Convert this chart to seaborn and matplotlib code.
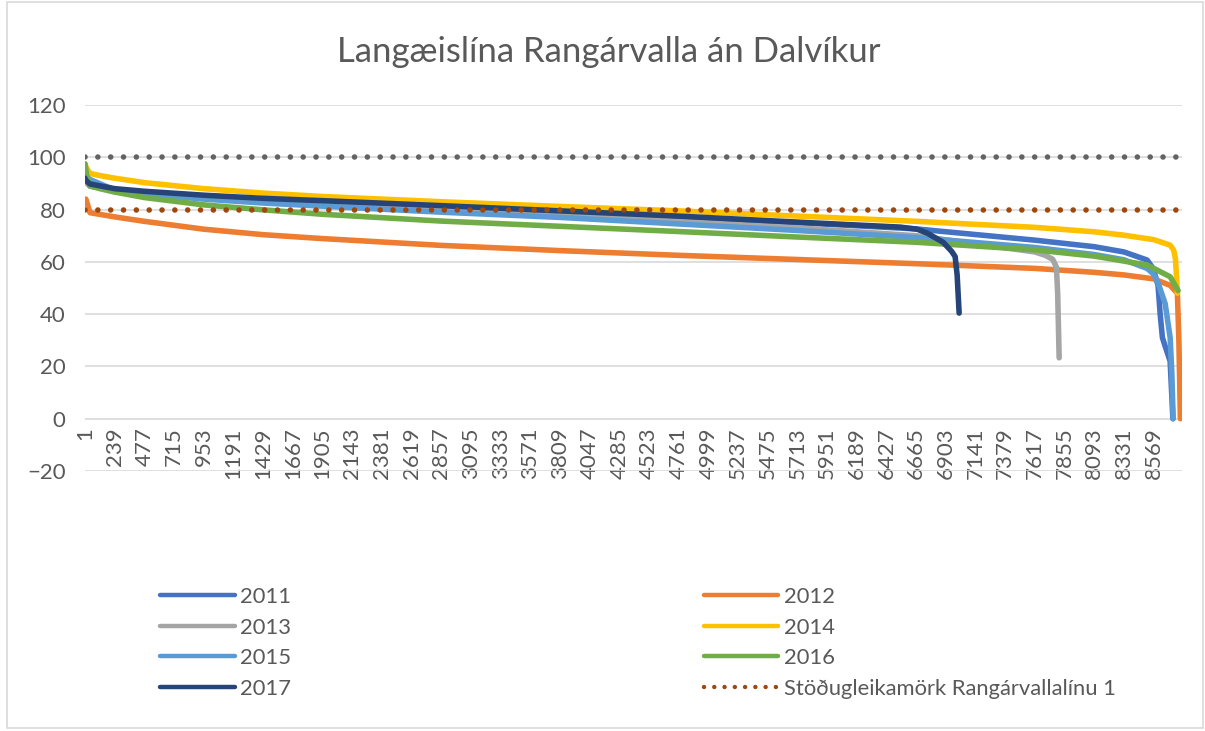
import numpy as np
import pandas as pd
import matplotlib
matplotlib.use('Agg')
import matplotlib.pyplot as plt
from matplotlib.patches import Rectangle
import seaborn as sns

# Duration curves (hour index, value)
h_2011 = [1, 41, 239, 477, 953, 1429, 1905, 2857, 3809, 4761, 5713, 6665, 7617, 8093, 8331, 8517, 8565, 8605, 8622, 8640, 8660, 8702, 8724]
v_2011 = [91, 89, 87.5, 86.5, 85, 84, 83, 81, 79, 77, 75, 72.6, 68.3, 65.8, 63.8, 60.7, 57.5, 51, 40, 31, 28, 22, 0]

h_2012 = [1, 8, 41, 239, 477, 953, 1429, 1905, 2857, 3809, 4761, 5713, 6665, 7617, 8093, 8331, 8569, 8702, 8760, 8772, 8784]
v_2012 = [83, 84, 78.8, 77.2, 75.5, 72.5, 70.4, 68.9, 66.3, 64.3, 62.5, 60.9, 59.3, 57.5, 56, 55, 53.5, 51, 48, 30, 0]

h_2013 = [1, 41, 239, 477, 953, 1429, 1905, 2857, 3809, 4761, 5713, 6665, 7617, 7700, 7760, 7790, 7800, 7812]
v_2013 = [91, 89, 87.5, 86.3, 84.5, 83.2, 82.2, 80, 78, 75.5, 73, 70, 63.8, 62.5, 61, 58, 48, 23.3]

h_2014 = [1, 12, 41, 120, 239, 477, 953, 1429, 1905, 2857, 3809, 4761, 5713, 6665, 7617, 8093, 8331, 8569, 8702, 8730, 8745, 8760]
v_2014 = [97.5, 96, 93.8, 93, 92, 90.3, 88, 86.3, 85, 83, 81.2, 79.5, 77.5, 75.5, 73.2, 71.5, 70.2, 68.5, 66.4, 64.5, 61, 48]

h_2015 = [1, 41, 239, 477, 953, 1429, 1905, 2857, 3809, 4761, 5713, 6665, 7617, 8093, 8331, 8517, 8565, 8605, 8662, 8702, 8715, 8726]
v_2015 = [93, 91.5, 87.5, 86, 84, 82.5, 81.3, 79, 77, 74.5, 72, 69.3, 65.5, 62.8, 60.8, 57.5, 55.5, 52, 44, 31, 18, 0]

h_2016 = [1, 15, 41, 120, 239, 477, 953, 1429, 1905, 2857, 3809, 4761, 5713, 6665, 7617, 8093, 8331, 8517, 8702, 8766]
v_2016 = [97.5, 93, 89, 88, 86.7, 84.6, 81.8, 79.9, 78.2, 75.6, 73.6, 71.6, 69.5, 67.5, 64.6, 62.2, 60.3, 58.8, 54.3, 49]

h_2017 = [1, 10, 41, 239, 477, 953, 1429, 1905, 2857, 3809, 4761, 5713, 6537, 6673, 6753, 6882, 6950, 6978, 6994, 7010]
v_2017 = [92, 91, 89.8, 88, 87, 85.5, 84.3, 83.4, 81.5, 79.5, 77.5, 75.2, 73.3, 72.5, 71, 67.5, 64, 62, 55, 40.4]

years = ['2011', '2012', '2013', '2014', '2015', '2016', '2017']
colors = ['#4472C4', '#ED7D31', '#A5A5A5', '#FFC000', '#5B9BD5', '#70AD47', '#264478']

# Reference lines
limit_hours = [1, 8784]
stability_limit = [80, 80]
upper_line = [100, 100]
limit_label = 'Stöðugleikamörk Rangárvallalínu 1'

title = 'Langæislína Rangárvalla án Dalvíkur'
tick_hours = list(range(1, 8570, 238))
y_ticks = [-20, 0, 20, 40, 60, 80, 100, 120]

series = [(h_2011, v_2011), (h_2012, v_2012), (h_2013, v_2013), (h_2014, v_2014),
          (h_2015, v_2015), (h_2016, v_2016), (h_2017, v_2017)]
frames = []
for year, (h, v) in zip(years, series):
    frames.append(pd.DataFrame({'hour': h, 'value': v, 'year': year}))
df = pd.concat(frames, ignore_index=True)

sns.set_style('white')
plt.rcParams['font.family'] = ['Lato', 'DejaVu Sans']
text_color = '#595959'
lw = 4.0
dotted = (0, (0.01, 2.3))

fig = plt.figure(figsize=(12.05, 7.31), dpi=100)
ax = fig.add_axes([85 / 1205, 1 - 471 / 731, (1182 - 85) / 1205, (471 - 105) / 731])

sns.lineplot(data=df, x='hour', y='value', hue='year', hue_order=years,
             palette=dict(zip(years, colors)), estimator=None, sort=False,
             linewidth=lw, solid_capstyle='round', legend=False, ax=ax)

ax.plot(limit_hours, upper_line, color='#636363', linewidth=lw,
        linestyle=dotted, dash_capstyle='round')
ax.plot(limit_hours, stability_limit, color='#9E480E', linewidth=lw,
        linestyle=dotted, dash_capstyle='round', label=limit_label)

# put the category axis at y = 0 (done before styling ticks, it resets them)
ax.spines['bottom'].set_position(('data', 0))
for s in ax.spines.values():
    s.set_visible(False)

ax.set_xlim(1, 8797)
ax.set_ylim(-20, 120)
ax.set_yticks(y_ticks)
ax.set_xticks(tick_hours)
ax.set_xticklabels([str(t) for t in tick_hours])
ax.grid(axis='y', color='#D9D9D9', linewidth=1.2)
ax.grid(axis='x', visible=False)
ax.set_axisbelow(True)
ax.tick_params(axis='y', length=0, pad=14, labelsize=16, labelcolor=text_color)
ax.tick_params(axis='x', length=0, pad=6, labelsize=16, labelcolor=text_color,
               labelrotation=90)
ax.set_xlabel('')
ax.set_ylabel('')

fig.suptitle(title, x=0.505, y=1 - 52 / 731, va='center', fontsize=25, color=text_color)

# Legend: two columns, Excel-style order
lines = ax.get_lines()
year_lines = lines[:7]
handles = [year_lines[0], year_lines[2], year_lines[4], year_lines[6],
           year_lines[1], year_lines[3], year_lines[5], lines[8]]
labels = ['2011', '2013', '2015', '2017', '2012', '2014', '2016', limit_label]
leg = fig.legend(handles, labels, ncol=2, loc='upper left',
                 bbox_to_anchor=(160 / 1205, 1 - 587 / 731), frameon=False,
                 fontsize=15.8, labelcolor=text_color, handlelength=3.4,
                 handletextpad=0.25, columnspacing=18.8, labelspacing=0.48,
                 borderpad=0, borderaxespad=0)
for h in leg.legend_handles:
    h.set_linewidth(3.2)

fig.add_artist(Rectangle((7 / 1205, 3 / 731), 1196 / 1205, 726 / 731,
                         transform=fig.transFigure, fill=False,
                         edgecolor='#D9D9D9', linewidth=1.2))

fig.savefig('out.png', dpi=100)
